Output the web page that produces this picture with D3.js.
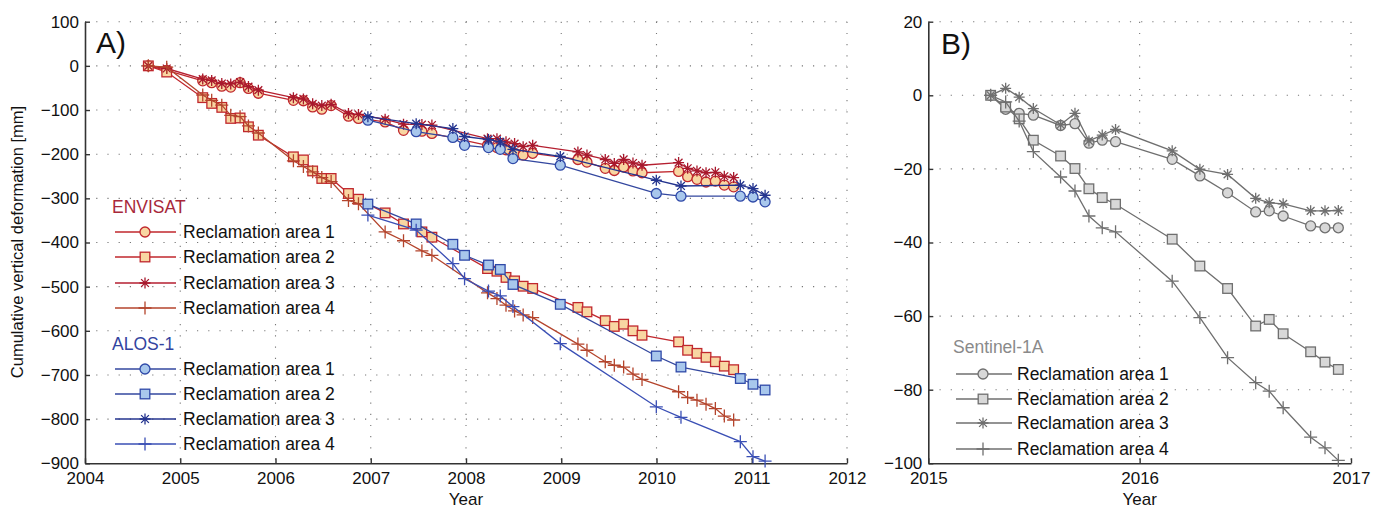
<!DOCTYPE html>
<html><head><meta charset="utf-8">
<script src="https://cdn.jsdelivr.net/npm/d3@7"></script>
<style>body{margin:0;background:#fff}svg{display:block;font-family:"Liberation Sans",Arial,sans-serif}</style>
</head><body><svg id="c" width="1382" height="510"></svg>
<script>
// ---------- DATA ----------
const envisatDates = [2004.665,2004.858,2005.236,2005.33,2005.436,2005.53,2005.628,2005.716,2005.82,2006.188,2006.293,2006.39,2006.486,2006.584,2006.766,2006.871,2007.151,2007.344,2007.537,2007.642,2008.226,2008.325,2008.42,2008.51,2008.6,2008.7,2009.175,2009.27,2009.462,2009.557,2009.655,2009.753,2009.848,2010.232,2010.327,2010.425,2010.52,2010.618,2010.712,2010.81];
const envisatArea1 = [0,-10,-34,-38,-46,-48,-38,-51,-62,-78,-79,-93,-98,-90,-114,-119,-127,-146,-148,-153,-180,-185,-190,-198,-202,-198,-212,-218,-232,-237,-229,-238,-242,-239,-251,-257,-263,-261,-270,-274];
const envisatArea2 = [0,-14,-72,-85,-94,-119,-118,-138,-157,-206,-213,-238,-255,-255,-289,-302,-333,-358,-376,-388,-459,-465,-479,-487,-499,-504,-547,-557,-577,-590,-585,-600,-610,-625,-644,-651,-660,-670,-680,-688];
const envisatArea3 = [0,-6,-30,-33,-40,-41,-37,-47,-55,-72,-75,-86,-90,-87,-108,-110,-121,-132,-133,-134,-165,-165,-172,-176,-183,-180,-195,-202,-212,-221,-212,-220,-225,-219,-232,-238,-242,-241,-250,-253];
const envisatArea4 = [0,-3,-66,-78,-89,-112,-115,-136,-152,-215,-228,-240,-253,-262,-305,-312,-376,-396,-419,-429,-514,-527,-542,-555,-564,-570,-630,-644,-670,-678,-682,-698,-710,-738,-751,-757,-766,-776,-793,-802];

const alosDates = [2006.97,2007.477,2007.862,2007.985,2008.236,2008.36,2008.493,2008.99,2009.998,2010.257,2010.88,2011.013,2011.14];
const alosArea1 = [-123,-149,-162,-180,-185,-189,-210,-225,-289,-295,-295,-297,-308];
const alosArea2 = [-313,-358,-404,-429,-451,-461,-495,-540,-657,-682,-708,-721,-734];
const alosArea3 = [-115,-131,-142,-160,-167,-172,-189,-205,-259,-272,-270,-278,-293];
const alosArea4 = [-338,-372,-448,-482,-510,-521,-545,-629,-772,-796,-851,-885,-895];

const s1Dates = [2015.295,2015.366,2015.43,2015.497,2015.626,2015.694,2015.76,2015.823,2015.886,2016.154,2016.285,2016.416,2016.549,2016.613,2016.679,2016.809,2016.877,2016.94];
const s1Area1 = [0,-3.8,-4.9,-5.4,-8.2,-7.7,-13.0,-12.2,-12.6,-17.4,-21.9,-26.5,-31.7,-31.4,-32.8,-35.5,-36.0,-36.0];
const s1Area2 = [0,-3.2,-6.4,-12.2,-16.5,-19.9,-25.4,-27.8,-29.6,-39.1,-46.4,-52.5,-62.7,-60.9,-64.8,-69.7,-72.5,-74.5];
const s1Area3 = [0,1.9,-0.5,-3.6,-8.0,-4.9,-12.4,-10.8,-9.3,-15.1,-20.1,-21.5,-28.0,-29.2,-29.5,-31.4,-31.4,-31.3];
const s1Area4 = [0,-1.8,-7.0,-15.3,-22.2,-26.0,-32.8,-36.0,-37.1,-50.5,-60.4,-71.3,-78.1,-80.4,-84.9,-92.9,-95.8,-99.2];

const xTicksA = [2004,2005,2006,2007,2008,2009,2010,2011,2012];
const yTicksA = [100,0,-100,-200,-300,-400,-500,-600,-700,-800,-900];
const xTicksB = [2015,2016,2017];
const yTicksB = [20,0,-20,-40,-60,-80,-100];
const legendLabels = ["Reclamation area 1","Reclamation area 2","Reclamation area 3","Reclamation area 4"];

// ---------- STYLES ----------
const RED="#c0272d", REDFILL="#f8d6a2", BLUE="#2d3f9c", BLUEFILL="#a8c7ec", GRAY="#6f6f6f", GRAYFILL="#d8d8d8";
const seriesA = [
  {x:envisatDates,y:envisatArea1,m:"circle",line:RED,stroke:RED,fill:REDFILL},
  {x:envisatDates,y:envisatArea2,m:"square",line:RED,stroke:RED,fill:REDFILL},
  {x:envisatDates,y:envisatArea3,m:"star",line:"#b51f30",stroke:"#a8182c",fill:"none"},
  {x:envisatDates,y:envisatArea4,m:"plus",line:"#b4442c",stroke:"#b4442c",fill:"none"},
  {x:alosDates,y:alosArea1,m:"circle",line:"#33479f",stroke:"#2f49a8",fill:BLUEFILL},
  {x:alosDates,y:alosArea2,m:"square",line:"#33479f",stroke:"#2f49a8",fill:BLUEFILL},
  {x:alosDates,y:alosArea3,m:"star",line:"#24348f",stroke:"#24348f",fill:"none"},
  {x:alosDates,y:alosArea4,m:"plus",line:"#3a4fb5",stroke:"#3a4fb5",fill:"none"}
];
const seriesB = [
  {x:s1Dates,y:s1Area1,m:"circle",line:GRAY,stroke:GRAY,fill:GRAYFILL},
  {x:s1Dates,y:s1Area2,m:"square",line:GRAY,stroke:GRAY,fill:GRAYFILL},
  {x:s1Dates,y:s1Area3,m:"star",line:GRAY,stroke:GRAY,fill:"none"},
  {x:s1Dates,y:s1Area4,m:"plus",line:GRAY,stroke:GRAY,fill:"none"}
];

const svg = d3.select("#c");
const fmt = d => d < 0 ? "\u2212" + Math.abs(d) : String(d);

function marker(g, type, cx, cy, s){
  if(type==="circle") g.append("circle").attr("cx",cx).attr("cy",cy).attr("r",s.r||5).attr("fill",s.fill).attr("stroke",s.stroke).attr("stroke-width",1.3);
  else if(type==="square"){const h=s.h||4.8; g.append("rect").attr("x",cx-h).attr("y",cy-h).attr("width",2*h).attr("height",2*h).attr("fill",s.fill).attr("stroke",s.stroke).attr("stroke-width",1.3);}
  else if(type==="star"){const a=5.5,b=3.9; g.append("path").attr("transform",`translate(${cx},${cy})`).attr("d",`M${-a},0H${a}M0,${-a}V${a}M${-b},${-b}L${b},${b}M${-b},${b}L${b},${-b}`).attr("stroke",s.stroke).attr("stroke-width",1.3).attr("fill","none");}
  else if(type==="plus"){const a=6.5; g.append("path").attr("transform",`translate(${cx},${cy})`).attr("d",`M${-a},0H${a}M0,${-a}V${a}`).attr("stroke",s.stroke).attr("stroke-width",1.3).attr("fill","none");}
}

function panel(opt){
  const {left,right,top,bottom,xd,yd,xt,yt,series,label,lx,ly} = opt;
  const x = d3.scaleLinear().domain(xd).range([left,right]);
  const y = d3.scaleLinear().domain(yd).range([bottom,top]);
  const g = svg.append("g");
  // grid
  const grid = g.append("g").attr("stroke","#777").attr("stroke-width",1.1).attr("stroke-dasharray","1.2,10");
  yt.forEach(v=>{ if(v!==yd[0]) grid.append("line").attr("x1",left).attr("x2",right).attr("y1",y(v)).attr("y2",y(v)); });
  xt.forEach(v=>{ if(v!==xd[0]) grid.append("line").attr("x1",x(v)).attr("x2",x(v)).attr("y1",top).attr("y2",bottom); });
  // axes
  const ax = g.append("g").attr("transform",`translate(0,${bottom})`).call(d3.axisBottom(x).tickValues(xt).tickFormat(d3.format("d")).tickSizeInner(-5).tickSizeOuter(0).tickPadding(12));
  const ay = g.append("g").attr("transform",`translate(${left},0)`).call(d3.axisLeft(y).tickValues(yt).tickFormat(fmt).tickSizeInner(-5).tickSizeOuter(0).tickPadding(6));
  [ax,ay].forEach(a=>{a.select(".domain").attr("stroke","#333").attr("stroke-width",1.6);a.selectAll(".tick line").attr("stroke","#333").attr("stroke-width",1.4);a.selectAll("text").attr("font-size",17).attr("fill","#111").attr("font-family","Liberation Sans, Arial, sans-serif");});
  ax.selectAll("text").attr("dy","0.5em");
  // series
  const line = d3.line().x(d=>x(d[0])).y(d=>y(d[1]));
  series.forEach(s=>{
    const pts = s.x.map((v,i)=>[v,s.y[i]]);
    const sg = g.append("g");
    sg.append("path").attr("d",line(pts)).attr("fill","none").attr("stroke",s.line).attr("stroke-width",1.3);
    pts.forEach(p=>marker(sg,s.m,x(p[0]),y(p[1]),s));
  });
  // panel label
  g.append("text").attr("x",lx).attr("y",ly).attr("font-size",30).attr("fill","#111").text(label);
  // x title
  g.append("text").attr("x",(left+right)/2).attr("y",505).attr("text-anchor","middle").attr("font-size",17).attr("fill","#111").text("Year");
  return {x,y,g};
}

const A = panel({left:85,right:847,top:21.7,bottom:463.3,xd:[2004,2012],yd:[-900,100],xt:xTicksA,yt:yTicksA,series:seriesA,label:"A)",lx:96,ly:53});
const B = panel({left:928.3,right:1351,top:21.7,bottom:463.3,xd:[2015,2017],yd:[-100,20],xt:xTicksB,yt:yTicksB,series:seriesB,label:"B)",lx:941,ly:54});

svg.append("text").attr("transform","translate(23,242) rotate(-90)").attr("text-anchor","middle").attr("font-size",16.5).attr("fill","#111").text("Cumulative vertical deformation [mm]");

// legends
function legend(x0, x1, xm, xtext, title, titleY, titleColor, rowsY, series){
  const g = svg.append("g");
  g.append("text").attr("x",x0-3).attr("y",titleY+6).attr("font-size",17.5).attr("fill",titleColor).text(title);
  series.forEach((s,i)=>{
    const yy = rowsY[i];
    g.append("line").attr("x1",x0).attr("x2",x1).attr("y1",yy).attr("y2",yy).attr("stroke",s.line).attr("stroke-width",1.3);
    marker(g,s.m,xm,yy,s);
    g.append("text").attr("x",xtext).attr("y",yy+6).attr("font-size",17.5).attr("fill","#111").text(legendLabels[i]);
  });
}
legend(115,176,145,183,"ENVISAT",207,"#a8283a",[232,257,283,308],seriesA.slice(0,4));
legend(115,176,145,183,"ALOS-1",344,"#3344a0",[369,394,419,444],seriesA.slice(4,8));
legend(956,1012,983,1017,"Sentinel-1A",347,"#8a8a8a",[374,399,423,449],seriesB);
</script></body></html>
